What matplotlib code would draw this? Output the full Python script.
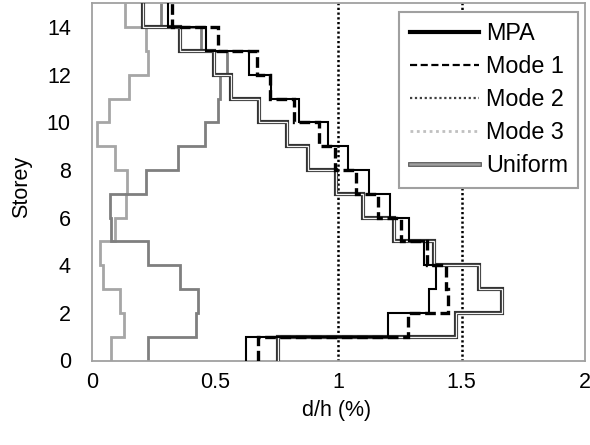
import numpy as np
import matplotlib
matplotlib.use("Agg")
import matplotlib.pyplot as plt
import matplotlib.patheffects as pe
from matplotlib.lines import Line2D

plt.rcParams['font.family'] = ['Liberation Sans', 'DejaVu Sans']

# Storey drift profiles (storey 1 .. 15), d/h in %
storey_edges = np.arange(0, 16)
mpa = [0.626, 1.200, 1.369, 1.396, 1.349, 1.285, 1.210, 1.126, 1.038, 0.957, 0.840, 0.725, 0.639, 0.464, 0.310]
mode1 = [0.673, 1.281, 1.443, 1.436, 1.360, 1.254, 1.162, 1.072, 0.985, 0.921, 0.822, 0.721, 0.669, 0.511, 0.325]
mode2 = [0.228, 0.423, 0.430, 0.356, 0.228, 0.078, 0.074, 0.221, 0.349, 0.460, 0.513, 0.522, 0.550, 0.444, 0.281]
mode3 = [0.079, 0.130, 0.115, 0.046, 0.032, 0.094, 0.140, 0.145, 0.096, 0.021, 0.072, 0.153, 0.227, 0.221, 0.133]
uniform = [0.754, 1.477, 1.662, 1.571, 1.386, 1.224, 1.099, 0.990, 0.876, 0.790, 0.680, 0.565, 0.494, 0.357, 0.210]
limits = [1.0, 1.5]
labels = ['MPA', 'Mode 1', 'Mode 2', 'Mode 3', 'Uniform']
xticks = [0, 0.5, 1, 1.5, 2]
xticklabels = ['0', '0.5', '1', '1.5', '2']
yticks = [0, 2, 4, 6, 8, 10, 12, 14]

fig = plt.figure(figsize=(5.9, 4.45), dpi=100)
ax = fig.add_axes([91.7/590, 1-360.5/445, (585-91.7)/590, (360.5-3.3)/445])

for xv in limits:
    ax.axvline(xv, color='black', lw=1.8, ls=(0, (0.9, 1.0)), zorder=1)

ax.stairs(mode3, storey_edges, orientation='horizontal', baseline=None,
          color='#a6a6a6', lw=2.0, zorder=2)
ax.stairs(mode2, storey_edges, orientation='horizontal', baseline=None,
          color='#7f7f7f', lw=2.0, zorder=2)
ax.stairs(uniform, storey_edges, orientation='horizontal', baseline=None,
          color='#f2f2f2', lw=0.9, zorder=3,
          path_effects=[pe.Stroke(linewidth=3.0, foreground='#333333'), pe.Normal()])
ax.stairs(mpa, storey_edges, orientation='horizontal', baseline=None,
          color='black', lw=1.5, zorder=4)
ax.stairs(mode1, storey_edges, orientation='horizontal', baseline=None,
          color='black', lw=2.4, ls=(0, (3.2, 1.4)), zorder=5)

ax.set_xlim(0, 2)
ax.set_ylim(0, 15)
ax.set_xticks(xticks)
ax.set_xticklabels(xticklabels)
ax.set_yticks(yticks)
ax.tick_params(axis='both', length=0, labelsize=15.5, colors='black')
ax.tick_params(axis='y', pad=15)
ax.tick_params(axis='x', pad=8)
for s in ax.spines.values():
    s.set_color('#a0a0a0')
    s.set_linewidth(1.3)

ax.set_xlabel('d/h (%)', fontsize=15.5, va='center')
ax.xaxis.set_label_coords(0.497, -0.139)
ax.set_ylabel('Storey', fontsize=15.5, va='center')
ax.yaxis.set_label_coords(-0.142, 0.486)

handles = [
    Line2D([], [], color='black', lw=3.0),
    Line2D([], [], color='black', lw=1.6, ls=(0, (3.2, 1.6))),
    Line2D([], [], color='#404040', lw=1.6, ls=(0, (1, 1.2))),
    Line2D([], [], color='#c0c0c0', lw=2.0, ls=(0, (1, 1.3))),
    Line2D([], [], color='#a0a0a0', lw=1.8,
           path_effects=[pe.Stroke(linewidth=3.4, foreground='#505050'), pe.Normal()]),
]
leg = ax.legend(handles, labels, loc='upper right', bbox_to_anchor=(0.9864, 0.9765),
                borderaxespad=0, fontsize=16.8, fancybox=False, framealpha=1,
                handlelength=2.95, handletextpad=0.3, borderpad=0.45, labelspacing=0.43)
leg.get_frame().set_edgecolor('#a0a0a0')
leg.get_frame().set_linewidth(1.5)

fig.savefig('out.png', dpi=100)
